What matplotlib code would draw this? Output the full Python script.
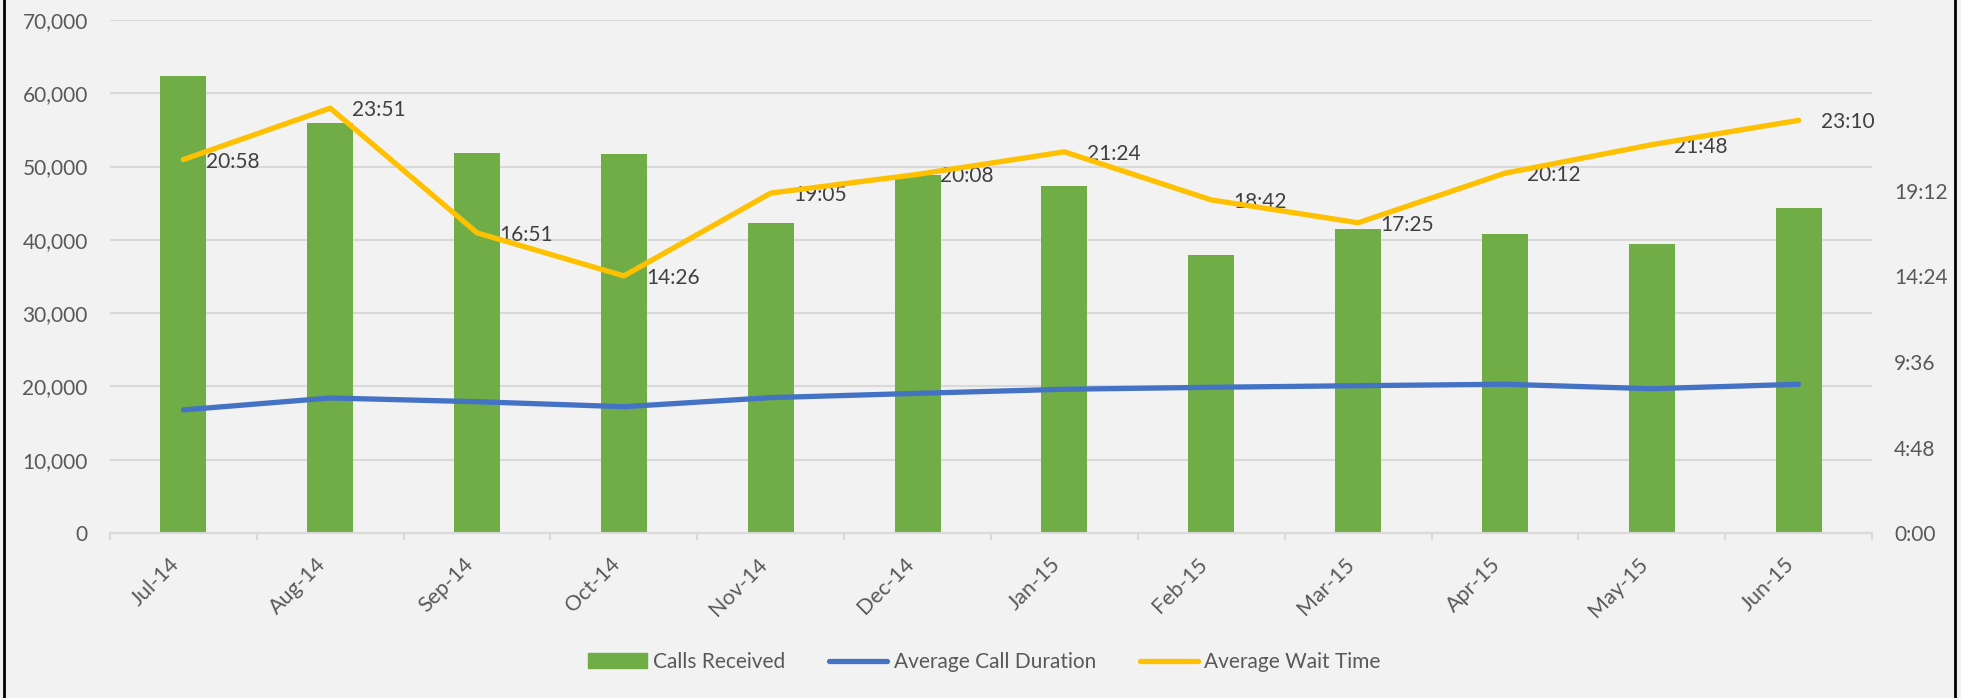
import matplotlib.pyplot as plt
from matplotlib.ticker import FixedLocator, FuncFormatter
from matplotlib.lines import Line2D
import matplotlib.transforms as mtransforms

plt.rcParams['font.family'] = ['Lato', 'DejaVu Sans']

months = ["Jul-14", "Aug-14", "Sep-14", "Oct-14", "Nov-14", "Dec-14",
          "Jan-15", "Feb-15", "Mar-15", "Apr-15", "May-15", "Jun-15"]
calls = [62400, 56000, 51800, 51700, 42300, 48900,
         47400, 38000, 41500, 40800, 39400, 44300]
# minutes
call_duration = [6.91, 7.58, 7.37, 7.09, 7.60, 7.84,
                 8.07, 8.18, 8.27, 8.35, 8.10, 8.35]
wait_labels = ["20:58", "23:51", "16:51", "14:26", "19:05", "20:08",
               "21:24", "18:42", "17:25", "20:12", "21:48", "23:10"]


def to_min(s):
    m, sec = s.split(":")
    return int(m) + int(sec) / 60


def fmt_time(v, pos=None):
    total = int(round(v * 60))
    return "{}:{:02d}".format(total // 60, total % 60)


wait_time = [to_min(s) for s in wait_labels]

bg = "#F2F2F2"
grid_c = "#D9D9D9"
text_c = "#595959"

fig = plt.figure(figsize=(19.61, 6.98), dpi=100, facecolor=bg)
ax = fig.add_axes([110 / 1961, 1 - 533 / 698, (1872 - 110) / 1961, (533 - 20) / 698])
ax.set_facecolor(bg)

x = list(range(len(months)))
ax.bar(x, calls, width=0.3125, color="#70AD47", zorder=2, label="Calls Received")
ax.set_ylim(0, 70000)
ax.set_xlim(-0.5, len(months) - 0.5)
ax.set_yticks(range(0, 70001, 10000))
ax.yaxis.set_major_formatter(FuncFormatter(lambda v, p: "{:,}".format(int(v))))
ax.grid(axis="y", color=grid_c, linewidth=1.5, zorder=0)
ax.set_axisbelow(True)

for s in ["top", "left", "right"]:
    ax.spines[s].set_visible(False)
ax.spines["bottom"].set_color(grid_c)
ax.spines["bottom"].set_linewidth(1.5)

ax.set_xticks(x)
ax.set_xticklabels(months, rotation=45, ha="right")
offset = mtransforms.ScaledTranslation(13 / 100, 0, fig.dpi_scale_trans)
for lbl in ax.get_xticklabels():
    lbl.set_transform(lbl.get_transform() + offset)
ax.xaxis.set_minor_locator(FixedLocator([i - 0.5 for i in range(len(months) + 1)]))
ax.tick_params(axis="x", which="major", length=0, pad=15, labelsize=15.5, labelcolor=text_c)
ax.tick_params(axis="x", which="minor", length=5, width=1.5, color=grid_c)
ax.tick_params(axis="y", length=0, pad=16, labelsize=15, labelcolor=text_c)

ax2 = ax.twinx()
ax2.set_ylim(0, 28.8)
ax2.set_yticks([0, 4.8, 9.6, 14.4, 19.2])
ax2.yaxis.set_major_formatter(FuncFormatter(fmt_time))
ax2.tick_params(axis="y", length=0, pad=16, labelsize=15, labelcolor=text_c)
for s in ["top", "left", "right", "bottom"]:
    ax2.spines[s].set_visible(False)

ax2.plot(x, call_duration, color="#4472C4", linewidth=3.8, solid_capstyle="round", zorder=3)
ax2.plot(x, wait_time, color="#FFC000", linewidth=3.8, solid_capstyle="round", zorder=4)
for xi, v, s in zip(x, wait_time, wait_labels):
    ax2.annotate(s, (xi, v), xytext=(16, -1.5), textcoords="offset points",
                 ha="left", va="center", fontsize=15, color="#404040")

handles = [
    plt.Rectangle((0, 0), 1, 1, color="#70AD47"),
    Line2D([], [], color="#4472C4", linewidth=3.8, solid_capstyle="round"),
    Line2D([], [], color="#FFC000", linewidth=3.8, solid_capstyle="round"),
]
leg = fig.legend(handles, ["Calls Received", "Average Call Duration", "Average Wait Time"],
                 loc="center", bbox_to_anchor=(0.502, 1 - 662 / 698), ncol=3,
                 frameon=False, fontsize=15, handlelength=2.8, handletextpad=0.3,
                 columnspacing=2.1, labelcolor=text_c)

# side borders
fig.add_artist(Line2D([4 / 1961, 4 / 1961], [0, 1], color="black", linewidth=2))
fig.add_artist(Line2D([1955 / 1961, 1955 / 1961], [0, 1], color="black", linewidth=2))

fig.savefig("out.png", dpi=100, facecolor=bg)
